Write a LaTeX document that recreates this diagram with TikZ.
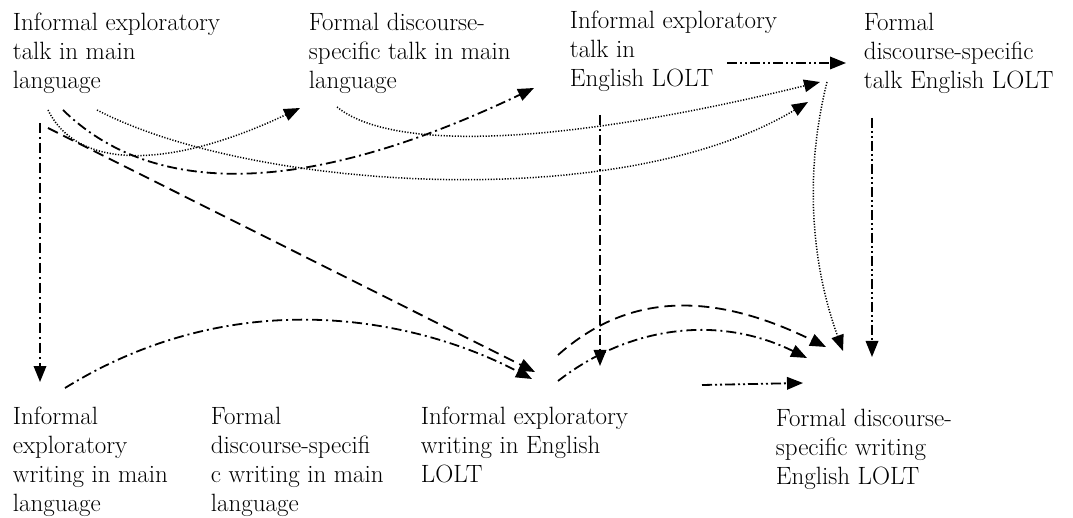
\documentclass[tikz,border=0pt]{standalone}
\usepackage{tikz}
\usetikzlibrary{arrows.meta}

\begin{document}
\begin{tikzpicture}[x=1pt,y=-1pt,->,>={Triangle[length=16pt,width=12.5pt]},line width=1.8pt,
box/.style={anchor=north west,align=left,inner sep=0pt,font=\fontsize{25}{29}\selectfont},
dashln/.style={dash pattern=on 11pt off 6pt},
dashdotln/.style={dash pattern=on 10pt off 4pt on 2pt off 4pt},
dashdotdotln/.style={dash pattern=on 10pt off 3pt on 2pt off 3pt on 2pt off 3pt},
dotln/.style={line width=1.5pt,dash pattern=on 1.2pt off 1.6pt}]
\useasboundingbox (0,0) rectangle (1073,518);

\node[box] (tm) at (12,12) {Informal exploratory\\talk in main\\language};
\node[box] (ftm) at (308,12) {Formal discourse-\\specific talk in main\\language};
\node[box] (te) at (569,10) {Informal exploratory\\talk in\\English LOLT};
\node[box] (fte) at (863,12) {Formal\\discourse-specific\\talk English LOLT};
\node[box] (wm) at (12,406) {Informal\\exploratory\\writing in main\\language};
\node[box] (fwm) at (210,406) {Formal\\discourse-specifi\\c writing in main\\language};
\node[box] (we) at (420,406) {Informal exploratory\\writing in English\\LOLT};
\node[box] (fwe) at (775,408) {Formal discourse-\\specific writing\\English LOLT};

% talk in main language
\draw[dashdotln] ([shift={(28,111)}]tm.north west) -- ([shift={(28,-24)}]wm.north west);
\draw[dashln] ([shift={(36,116)}]tm.north west) -- ([shift={(115,-34)}]we.north west);
\draw[dotln] ([shift={(36,98)}]tm.north west) .. controls +(32,65) and +(-120,57) .. ([shift={(-8,96)}]ftm.north west);
\draw[dashdotln] ([shift={(51,98)}]tm.north west) .. controls +(87,85) and +(-235,112) .. ([shift={(-35,78)}]te.north west);
\draw[dotln] ([shift={(85,98)}]tm.north west) .. controls +(153,80) and +(-188,113) .. ([shift={(-55,90)}]fte.north west);
\draw[dotln] ([shift={(29,95)}]ftm.north west) .. controls +(53,43) and +(-270,66) .. ([shift={(-43,70)}]fte.north west);

% talk in English LOLT
\draw[dashdotdotln] ([shift={(158,53)}]te.north west) -- ([shift={(-17,51)}]fte.north west);
\draw[dashdotln] ([shift={(31,105)}]te.north west) -- ([shift={(180,-40)}]we.north west);
\draw[dashdotdotln] ([shift={(9,106)}]fte.north west) -- ([shift={(97,-51)}]fwe.north west);
\draw[dotln] ([shift={(-36,70)}]fte.north west) .. controls +(-22,88) and +(-33,-91) .. ([shift={(68,-57)}]fwe.north west);

% writing
\draw[dashdotln] ([shift={(53,-18)}]wm.north west) .. controls +(175,-108) and +(-112,-59) .. ([shift={(112,-27)}]we.north west);
\draw[dashln] ([shift={(138,-51)}]we.north west) .. controls +(62,-55) and +(-126,-62) .. ([shift={(51,-61)}]fwe.north west);
\draw[dashdotln] ([shift={(138,-25)}]we.north west) .. controls +(72,-56) and +(-87,-43) .. ([shift={(32,-50)}]fwe.north west);
\draw[dashdotdotln] ([shift={(282,-21)}]we.north west) -- ([shift={(28,-25)}]fwe.north west);
\end{tikzpicture}
\end{document}
